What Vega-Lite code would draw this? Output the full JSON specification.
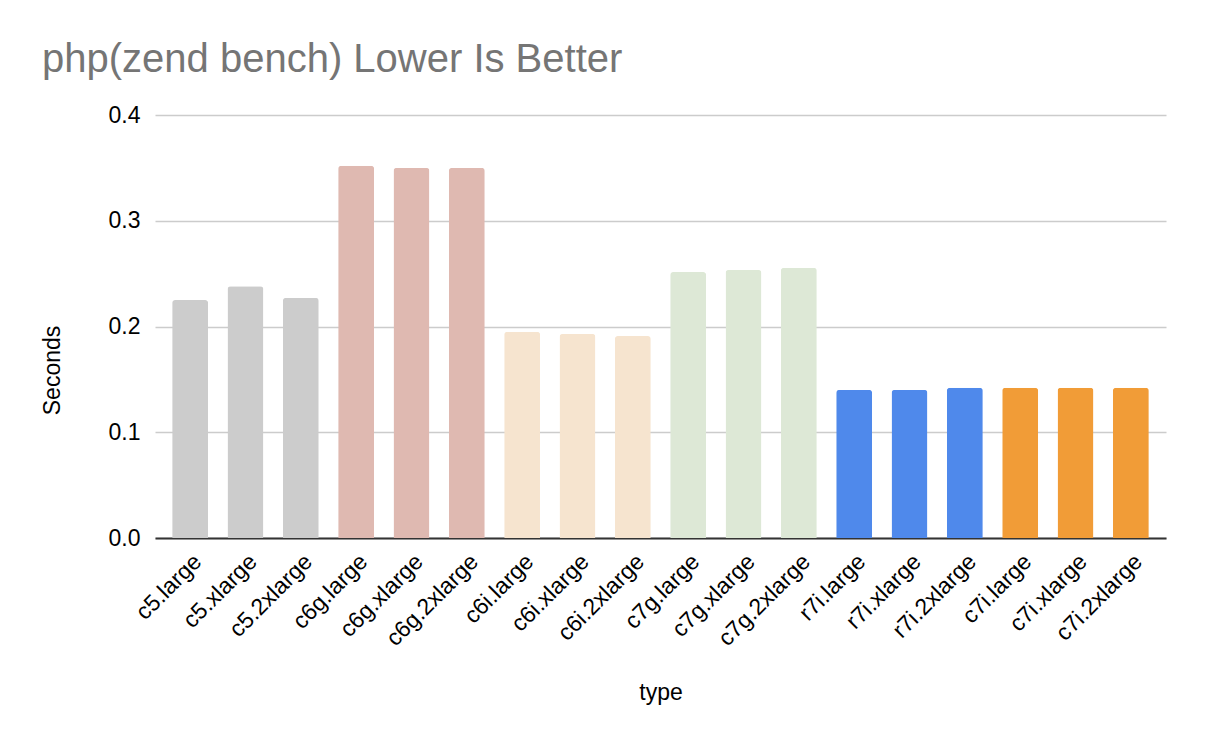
{
  "$schema": "https://vega.github.io/schema/vega-lite/v6.json",
  "autosize": "none",
  "width": 1011,
  "height": 423,
  "padding": {"left": 155, "top": 115, "right": 40, "bottom": 210},
  "background": "white",
  "title": {
    "text": "php(zend bench) Lower Is Better",
    "anchor": "start",
    "frame": "group",
    "dx": -113,
    "offset": -8,
    "baseline": "alphabetic",
    "font": "Liberation Sans",
    "fontSize": 40,
    "fontWeight": "normal",
    "color": "#757575"
  },
  "data": {
    "values": [
      {"type": "c5.large", "family": "c5", "seconds": 0.225},
      {"type": "c5.xlarge", "family": "c5", "seconds": 0.238},
      {"type": "c5.2xlarge", "family": "c5", "seconds": 0.227},
      {"type": "c6g.large", "family": "c6g", "seconds": 0.352},
      {"type": "c6g.xlarge", "family": "c6g", "seconds": 0.350},
      {"type": "c6g.2xlarge", "family": "c6g", "seconds": 0.350},
      {"type": "c6i.large", "family": "c6i", "seconds": 0.195},
      {"type": "c6i.xlarge", "family": "c6i", "seconds": 0.193},
      {"type": "c6i.2xlarge", "family": "c6i", "seconds": 0.191},
      {"type": "c7g.large", "family": "c7g", "seconds": 0.2515},
      {"type": "c7g.xlarge", "family": "c7g", "seconds": 0.2535},
      {"type": "c7g.2xlarge", "family": "c7g", "seconds": 0.2555},
      {"type": "r7i.large", "family": "r7i", "seconds": 0.140},
      {"type": "r7i.xlarge", "family": "r7i", "seconds": 0.140},
      {"type": "r7i.2xlarge", "family": "r7i", "seconds": 0.142},
      {"type": "c7i.large", "family": "c7i", "seconds": 0.142},
      {"type": "c7i.xlarge", "family": "c7i", "seconds": 0.142},
      {"type": "c7i.2xlarge", "family": "c7i", "seconds": 0.142}
    ]
  },
  "mark": {"type": "bar", "cornerRadiusTopLeft": 3, "cornerRadiusTopRight": 3},
  "encoding": {
    "x": {
      "field": "type",
      "type": "nominal",
      "sort": null,
      "title": "type",
      "scale": {"paddingInner": 0.35, "paddingOuter": 0.31},
      "axis": {
        "labelAngle": -45,
        "labelFontSize": 23,
        "labelColor": "#000000",
        "labelFont": "Liberation Sans",
        "labelPadding": 12,
        "ticks": false,
        "domainColor": "#333333",
        "domainWidth": 2,
        "titleFont": "Liberation Sans",
        "titleFontSize": 23,
        "titleFontWeight": "normal",
        "titleColor": "#000000",
        "titleY": 154,
        "titleBaseline": "middle"
      }
    },
    "y": {
      "field": "seconds",
      "type": "quantitative",
      "title": "Seconds",
      "scale": {"domain": [0, 0.4]},
      "axis": {
        "values": [0, 0.1, 0.2, 0.3, 0.4],
        "format": ".1f",
        "labelFontSize": 23,
        "labelColor": "#000000",
        "labelFont": "Liberation Sans",
        "labelPadding": 15,
        "ticks": false,
        "domain": false,
        "gridColor": "#cccccc",
        "gridWidth": 1.3,
        "titleFont": "Liberation Sans",
        "titleFontSize": 23,
        "titleFontWeight": "normal",
        "titleColor": "#000000",
        "titleX": -103,
        "titleY": 255,
        "titleAngle": -90,
        "titleAlign": "center",
        "titleBaseline": "middle"
      }
    },
    "color": {
      "field": "family",
      "type": "nominal",
      "legend": null,
      "scale": {
        "domain": ["c5", "c6g", "c6i", "c7g", "r7i", "c7i"],
        "range": ["#cccccc", "#dfb9b1", "#f6e4cf", "#dde8d6", "#4f89eb", "#f19c37"]
      }
    }
  },
  "config": {"view": {"stroke": null}}
}
